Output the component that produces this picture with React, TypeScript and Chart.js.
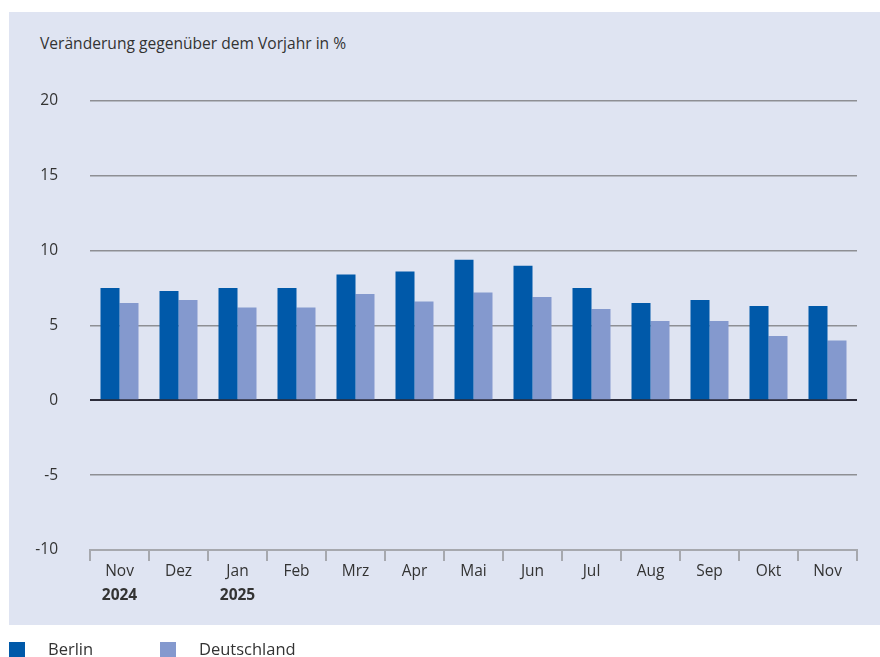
import { useEffect, useRef } from "react";
import { Chart, registerables } from "chart.js";

Chart.register(...registerables);

const months = ["Nov", "Dez", "Jan", "Feb", "Mrz", "Apr", "Mai", "Jun", "Jul", "Aug", "Sep", "Okt", "Nov"];
const years = ["2024", "", "2025", "", "", "", "", "", "", "", "", "", ""];
const berlin = [7.5, 7.3, 7.5, 7.5, 8.4, 8.6, 9.4, 9.0, 7.5, 6.5, 6.7, 6.3, 6.3];
const deutschland = [6.5, 6.7, 6.2, 6.2, 7.1, 6.6, 7.2, 6.9, 6.1, 5.3, 5.3, 4.3, 4.0];
const yMin = -10;
const yMax = 20;
const yStep = 5;

const FONT = "'Open Sans', sans-serif";
const TEXT = "#333333";
const BERLIN = "#0059a9";
const DE = "#8499ce";
const PANEL = "#dfe4f2";

const yearPlugin = {
  id: "yearLabels",
  afterDraw(chart: any) {
    const { ctx, scales } = chart;
    const x = scales.x;
    ctx.save();
    ctx.font = `bold 15.5px ${FONT}`;
    ctx.fillStyle = TEXT;
    ctx.textAlign = "center";
    ctx.textBaseline = "middle";
    years.forEach((yr, i) => {
      if (yr) ctx.fillText(yr, x.getPixelForValue(i), chart.chartArea.bottom + 46);
    });
    ctx.restore();
  },
};

export default function App() {
  const ref = useRef<HTMLCanvasElement>(null);
  useEffect(() => {
    if (!ref.current) return;
    const chart = new Chart(ref.current, {
      type: "bar",
      data: {
        labels: months,
        datasets: [
          { label: "Berlin", data: berlin, backgroundColor: BERLIN },
          { label: "Deutschland", data: deutschland, backgroundColor: DE },
        ],
      },
      options: {
        responsive: false,
        animation: false,
        devicePixelRatio: 1,
        layout: { padding: { left: 0, right: 23, top: 101, bottom: 0 } },
        datasets: { bar: { categoryPercentage: 0.644, barPercentage: 1 } },
        plugins: { legend: { display: false }, tooltip: { enabled: false }, title: { display: false } },
        scales: {
          x: {
            grid: {
              offset: true,
              drawOnChartArea: false,
              drawTicks: true,
              tickLength: 11,
              color: "#a6a8ae",
              lineWidth: 2,
            },
            border: { display: true, color: "#a6a8ae", width: 2 },
            ticks: {
              color: TEXT,
              font: { family: FONT, size: 15.5 },
              padding: 1,
              maxRotation: 0,
              autoSkip: false,
            },
            afterFit: (s: any) => {
              s.height = 107;
            },
          },
          y: {
            min: yMin,
            max: yMax,
            ticks: {
              stepSize: yStep,
              color: TEXT,
              font: { family: FONT, size: 15.5 },
              padding: 32,
            },
            grid: {
              drawTicks: false,
              color: (c: any) => (c.tick && c.tick.value === 0 ? "#2c2c3a" : c.tick && c.tick.value === yMin ? "#a6a8ae" : "#8e8f94"),
              lineWidth: (c: any) => (c.tick && c.tick.value === 0 ? 2 : 1.5),
            },
            border: { display: false },
            afterFit: (s: any) => {
              s.width = 90;
            },
          },
        },
      },
      plugins: [yearPlugin],
    });
    return () => chart.destroy();
  }, []);

  return (
    <div style={{ position: "absolute", left: 0, top: 0, width: 880, height: 657, overflow: "hidden", background: "#ffffff", fontFamily: FONT, color: TEXT }}>
      <div style={{ position: "absolute", left: 9, top: 12, width: 871, height: 613, background: PANEL }} />
      <div style={{ position: "absolute", left: 40, top: 33, fontSize: 15.6, lineHeight: "20px", whiteSpace: "nowrap" }}>
        Veränderung gegenüber dem Vorjahr in %
      </div>
      <canvas ref={ref} width={880} height={657} style={{ position: "absolute", left: 0, top: 0, width: 880, height: 657 }} />
      <div style={{ position: "absolute", left: 9, top: 642, width: 16, height: 16, background: BERLIN }} />
      <div style={{ position: "absolute", left: 48, top: 639, fontSize: 16.5, lineHeight: "20px" }}>Berlin</div>
      <div style={{ position: "absolute", left: 160, top: 642, width: 16, height: 16, background: DE }} />
      <div style={{ position: "absolute", left: 199, top: 639, fontSize: 16.5, lineHeight: "20px" }}>Deutschland</div>
    </div>
  );
}
